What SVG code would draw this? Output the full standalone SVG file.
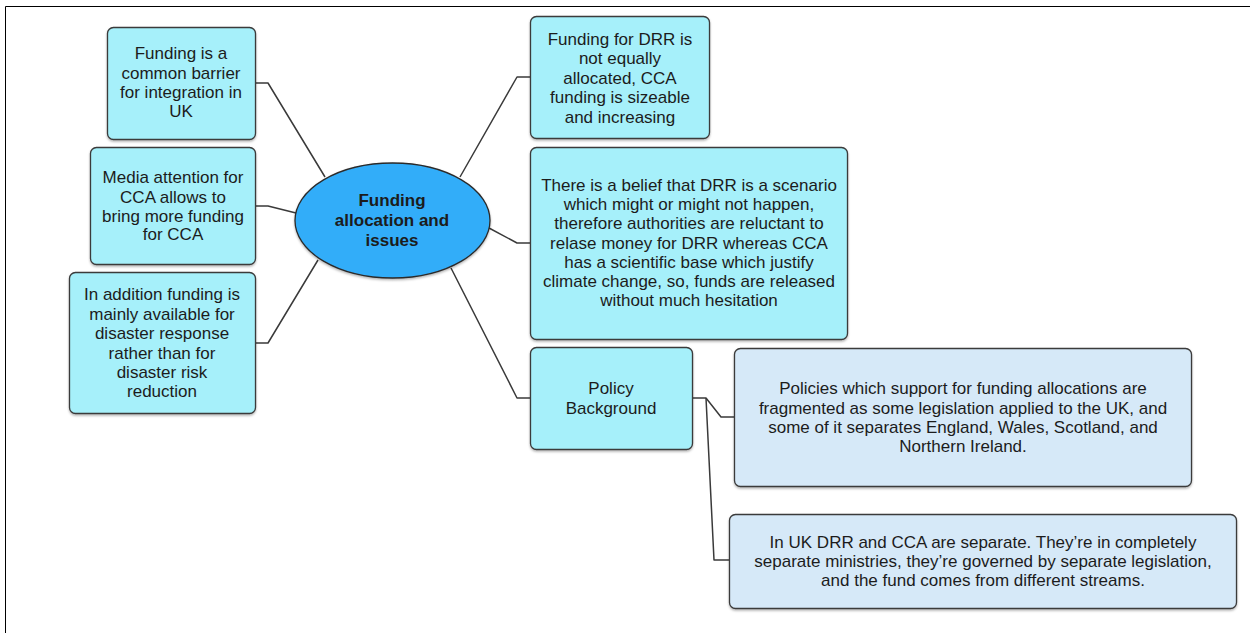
<svg xmlns="http://www.w3.org/2000/svg" width="1250" height="633" viewBox="0 0 1250 633">
<defs>
<filter id="sh" x="-10%" y="-10%" width="120%" height="120%">
<feDropShadow dx="0" dy="1.5" stdDeviation="1" flood-color="#000" flood-opacity="0.3"/>
</filter>
</defs>
<style>
.t{font-family:"Liberation Sans",Arial,sans-serif;font-size:17px;fill:#1c1c1c;text-anchor:middle}
.b{font-weight:bold}
.n1{fill:#a6f0fa;stroke:#3a3a3a;stroke-width:1.3}
.n2{fill:#d6e9f8;stroke:#3a3a3a;stroke-width:1.3}
.c{fill:none;stroke:#3a3a3a;stroke-width:1.5;stroke-linejoin:round}
</style>
<rect width="1250" height="633" fill="#fff"/>
<path d="M5.5 633 V6.5 H1250" fill="none" stroke="#000" stroke-width="1"/>
<g id="connectors">
<path class="c" d="M255 83 H268 L325 177"/>
<path class="c" d="M255 206 H268 L296 213"/>
<path class="c" d="M255 343 H268 L318 260"/>
<path class="c" d="M531 77 H517 L460 177"/>
<path class="c" d="M531 243 H517 L489 228"/>
<path class="c" d="M531 398 H517 L451 268"/>
<path class="c" d="M692 398 H706 L721 417 H734"/>
<path class="c" d="M706 398 L714 560 H729"/>
</g>
<g id="center">
<ellipse cx="392.5" cy="220.5" rx="97.5" ry="57.5" fill="#33adf9" stroke="#2a2a2a" stroke-width="1.3" filter="url(#sh)"/>
<text class="t b"><tspan x="392" y="206">Funding</tspan><tspan x="392" y="226">allocation and</tspan><tspan x="392" y="246">issues</tspan></text>
</g>
<g id="node-l1">
<rect class="n1" x="107.5" y="27.5" width="148" height="112" rx="6" filter="url(#sh)"/>
<text class="t"><tspan x="181" y="59">Funding is a</tspan><tspan x="181" y="79">common barrier</tspan><tspan x="181" y="98">for integration in</tspan><tspan x="181" y="117">UK</tspan></text>
</g>
<g id="node-l2">
<rect class="n1" x="90.5" y="147.5" width="165" height="117" rx="6" filter="url(#sh)"/>
<text class="t"><tspan x="173" y="183">Media attention for</tspan><tspan x="173" y="203">CCA allows to</tspan><tspan x="173" y="222">bring more funding</tspan><tspan x="173" y="240">for CCA</tspan></text>
</g>
<g id="node-l3">
<rect class="n1" x="69.5" y="272.5" width="186" height="141" rx="6" filter="url(#sh)"/>
<text class="t"><tspan x="162" y="300">In addition funding is</tspan><tspan x="162" y="320">mainly available for</tspan><tspan x="162" y="339">disaster response</tspan><tspan x="162" y="359">rather than for</tspan><tspan x="162" y="378">disaster risk</tspan><tspan x="162" y="397">reduction</tspan></text>
</g>
<g id="node-r1">
<rect class="n1" x="530.5" y="16.5" width="179" height="122" rx="6" filter="url(#sh)"/>
<text class="t"><tspan x="620" y="45">Funding for DRR is</tspan><tspan x="620" y="64">not equally</tspan><tspan x="620" y="84">allocated, CCA</tspan><tspan x="620" y="103">funding is sizeable</tspan><tspan x="620" y="123">and increasing</tspan></text>
</g>
<g id="node-r2">
<rect class="n1" x="530.5" y="147.5" width="317" height="192" rx="6" filter="url(#sh)"/>
<text class="t"><tspan x="689" y="191">There is a belief that DRR is a scenario</tspan><tspan x="689" y="210">which might or might not happen,</tspan><tspan x="689" y="229">therefore authorities are reluctant to</tspan><tspan x="689" y="249">relase money for DRR whereas CCA</tspan><tspan x="689" y="268">has a scientific base which justify</tspan><tspan x="689" y="287">climate change, so, funds are released</tspan><tspan x="689" y="306">without much hesitation</tspan></text>
</g>
<g id="node-r3">
<rect class="n1" x="530.5" y="347.5" width="162" height="102" rx="6" filter="url(#sh)"/>
<text class="t"><tspan x="611" y="394">Policy</tspan><tspan x="611" y="414">Background</tspan></text>
</g>
<g id="node-r4">
<rect class="n2" x="734.5" y="348.5" width="457" height="138" rx="6" filter="url(#sh)"/>
<text class="t"><tspan x="963" y="394">Policies which support for funding allocations are</tspan><tspan x="963" y="414">fragmented as some legislation applied to the UK, and</tspan><tspan x="963" y="433">some of it separates England, Wales, Scotland, and</tspan><tspan x="963" y="452">Northern Ireland.</tspan></text>
</g>
<g id="node-r5">
<rect class="n2" x="729.5" y="514.5" width="507" height="94" rx="6" filter="url(#sh)"/>
<text class="t"><tspan x="983" y="548">In UK DRR and CCA are separate. They’re in completely</tspan><tspan x="983" y="567">separate ministries, they’re governed by separate legislation,</tspan><tspan x="983" y="586">and the fund comes from different streams.</tspan></text>
</g>
</svg>
